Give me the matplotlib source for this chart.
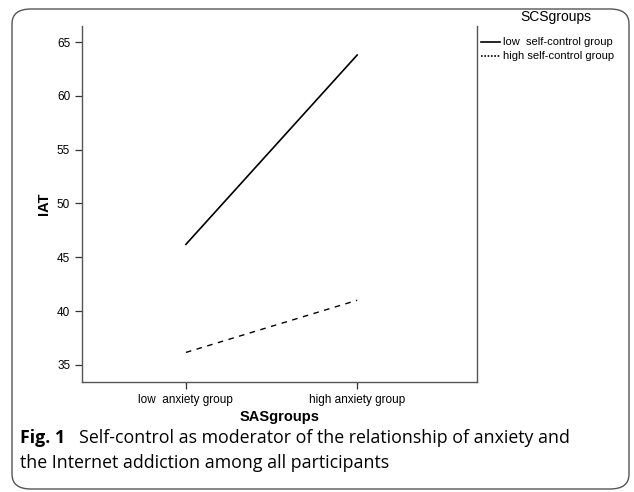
import matplotlib.pyplot as plt
from matplotlib.patches import FancyBboxPatch
from matplotlib.lines import Line2D

# data
sas_groups = ['low  anxiety group', 'high anxiety group']
low_self_control = [46.2, 63.8]
high_self_control = [36.15, 41.0]
legend_labels = ['low  self-control group', 'high self-control group']
y_ticks = [35, 40, 45, 50, 55, 60, 65]

plt.rcParams['font.family'] = ['Liberation Sans', 'DejaVu Sans']

fig = plt.figure(figsize=(6.34, 4.92), dpi=100)

# rounded outer frame
frame = FancyBboxPatch((12 / 634, 3 / 492), 617 / 634, 480 / 492,
                       boxstyle='round,pad=0,rounding_size=0.03',
                       transform=fig.transFigure, fill=False,
                       edgecolor='#555555', lw=1.0)
fig.patches.append(frame)

ax = fig.add_axes([82 / 634, 110 / 492, 395 / 634, 356 / 492])
x = [0, 1]
ax.plot(x, low_self_control, color='black', lw=1.2)
ax.plot(x, high_self_control, color='black', lw=1.0, linestyle=(0, (4, 4)))

ax.set_xlim(-0.607, 1.70)
ax.set_ylim(33.4, 66.5)
ax.set_xticks(x)
ax.set_xticklabels(sas_groups, fontsize=8.5)
ax.set_yticks(y_ticks)
ax.tick_params(axis='y', labelsize=8.5, length=5, width=0.9, color='#333333')
ax.tick_params(axis='x', length=5, width=0.9, color='#333333')
ax.spines['top'].set_visible(False)
for s in ['left', 'right', 'bottom']:
    ax.spines[s].set_color('#555555')
    ax.spines[s].set_linewidth(1.0)

ax.set_xlabel('SASgroups', fontsize=10.5, fontweight='bold', labelpad=3)
ax.set_ylabel('IAT', fontsize=10.5, fontweight='bold', labelpad=4)

# legend drawn by hand to mimic the SPSS layout
fig.text(556 / 634, 1 - 17 / 492, 'SCSgroups', fontsize=10, ha='center', va='center')
styles = ['-', (0, (1, 1))]
ys = [42, 56]
for lab, ls, yy in zip(legend_labels, styles, ys):
    fig.add_artist(Line2D([481 / 634, 500 / 634], [1 - yy / 492, 1 - yy / 492],
                          color='black', lw=1.2, linestyle=ls,
                          transform=fig.transFigure))
    fig.text(503 / 634, 1 - yy / 492, lab, fontsize=8, va='center')

# caption
cap_font = ['Open Sans', 'DejaVu Sans']
fig.text(20 / 634, 1 - 438 / 492, 'Fig. 1', fontsize=12.8, fontweight='bold',
         family=cap_font, va='center')
fig.text(79 / 634, 1 - 438 / 492,
         'Self-control as moderator of the relationship of anxiety and',
         fontsize=12.8, family=cap_font, va='center')
fig.text(20 / 634, 1 - 463 / 492,
         'the Internet addiction among all participants',
         fontsize=12.8, family=cap_font, va='center')

fig.savefig('out.png', dpi=100)
